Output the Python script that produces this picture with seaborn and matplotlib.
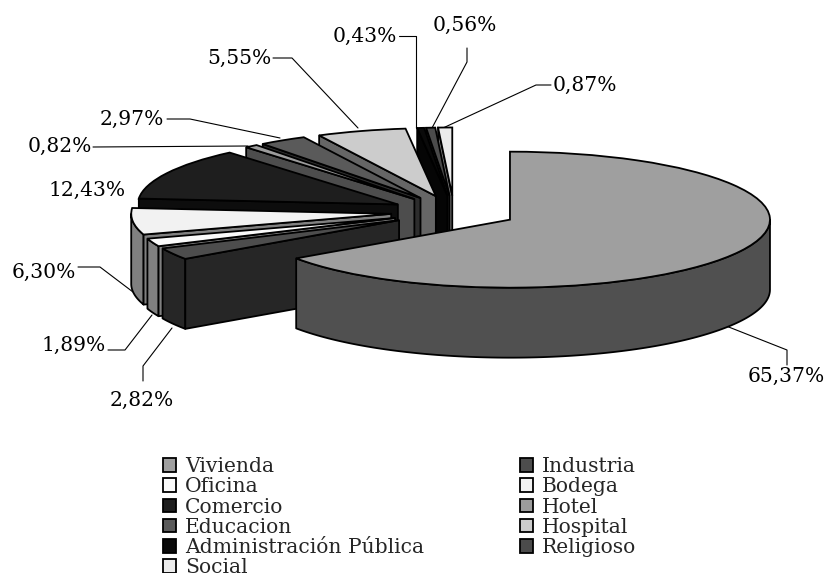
import numpy as np
import matplotlib
matplotlib.use("Agg")
import matplotlib.pyplot as plt
from matplotlib.patches import Polygon, Patch
from matplotlib.transforms import Affine2D
import seaborn as sns

categories = ["Vivienda", "Industria", "Oficina", "Bodega", "Comercio", "Hotel",
              "Educacion", "Hospital", "Administración Pública", "Religioso", "Social"]
values = [65.37, 2.82, 1.89, 6.30, 12.43, 0.82, 2.97, 5.55, 0.43, 0.56, 0.87]
value_labels = ["65,37%", "2,82%", "1,89%", "6,30%", "12,43%", "0,82%",
                "2,97%", "5,55%", "0,43%", "0,56%", "0,87%"]
top_colors = ["#9f9f9f", "#4d4d4d", "#fafafa", "#f2f2f2", "#1e1e1e", "#9c9c9c",
              "#5a5a5a", "#cccccc", "#0a0a0a", "#4b4b4b", "#ebebeb"]
side_colors = ["#505050", "#262626", "#808080", "#808080", "#0d0d0d", "#4d4d4d",
               "#2d2d2d", "#666666", "#050505", "#262626", "#757575"]

W, H = 824, 573
CX, CY, RX, RY, DEPTH = 454.0, 212.0, 260.0, 68.0, 70.0
EXPLODE = 0.243
LW = 1.3
FONT = "DejaVu Serif"

sns.set_theme(style="white")
plt.rcParams["font.family"] = [FONT]

fig = plt.figure(figsize=(W / 100, H / 100), dpi=100, facecolor="white")
ax = fig.add_axes([0, 0, 1, 1])
wedges, _ = ax.pie(values, colors=sns.color_palette(top_colors), explode=[EXPLODE] * len(values),
                   startangle=90, counterclock=False,
                   wedgeprops=dict(edgecolor="black", linewidth=LW))
ax.set_aspect("auto")
ax.set_xlim(-CX / RX, (W - CX) / RX)
ax.set_ylim((CY - H) / RY, CY / RY)
ax.axis("off")

drop = DEPTH / RY


def outer_spans(t1, t2):
    spans = []
    for k in (-360, 0, 360):
        lo, hi = max(t1 + k, 180), min(t2 + k, 360)
        if hi > lo:
            spans.append((lo, hi))
    return spans


n = len(values)
for i, w in enumerate(wedges):
    rank = (n - 1 - i) if i else n   # back to front, the large slice last
    z = 10 + rank
    w.set_zorder(z + 0.5)
    cx, cy = w.center
    t1, t2 = w.theta1, w.theta2
    face = dict(facecolor=side_colors[i], edgecolor="black", linewidth=LW, zorder=z, joinstyle="round")
    for lo, hi in outer_spans(t1, t2):
        th = np.radians(np.linspace(lo, hi, 120))
        xs = cx + np.cos(th)
        ys = cy + np.sin(th)
        ax.add_patch(Polygon(np.r_[np.c_[xs, ys], np.c_[xs[::-1], ys[::-1] - drop]], closed=True, **face))
    for t, visible in ((t1, np.cos(np.radians(t1)) > 0), (t2, np.cos(np.radians(t2)) < 0)):
        if visible:
            ex, ey = cx + np.cos(np.radians(t)), cy + np.sin(np.radians(t))
            ax.add_patch(Polygon([(cx, cy), (ex, ey), (ex, ey - drop), (cx, cy - drop)],
                                 closed=True, **face))

pix = Affine2D().scale(1, -1).translate(0, H)
label_pos = [(786, 376), (142, 400), (74, 345), (44, 272), (87, 190), (60, 146),
             (132, 119), (239, 58), (365, 36), (465, 25), (585, 85)]
leaders = [[(716, 322), (787, 350), (787, 365)],
           [(143, 381), (143, 366), (172, 328)],
           [(108, 350), (125, 350), (152, 315)],
           [(78, 267), (100, 267), (133, 292)],
           [],
           [(93, 147), (248, 146)],
           [(167, 119), (190, 119), (280, 138)],
           [(273, 58), (292, 58), (358, 128)],
           [(399, 36), (416, 36), (416, 128)],
           [(467, 48), (467, 62), (432, 128)],
           [(551, 85), (536, 85), (443, 128)]]
for text, (tx, ty), path in zip(value_labels, label_pos, leaders):
    ax.text(tx, ty, text, transform=pix, ha="center", va="center", fontsize=14.6, color="black", zorder=40)
    if path:
        xs, ys = zip(*path)
        ax.plot(xs, ys, transform=pix, color="black", lw=0.8, zorder=5, clip_on=False)

left = list(range(0, n, 2))
right = list(range(1, n, 2))
order = left + right
handles = [Patch(facecolor=top_colors[i], edgecolor="black", linewidth=LW, label=categories[i]) for i in order]
leg = ax.legend(handles=handles, ncols=2, loc="upper left", bbox_to_anchor=(163 / W, 1 - 457 / H),
                bbox_transform=fig.transFigure, frameon=False, fontsize=14.6, labelspacing=0.063,
                handlelength=0.65, handleheight=0.65, handletextpad=0.45, columnspacing=4.7,
                borderpad=0, borderaxespad=0)
leg.set_zorder(50)

fig.savefig("out.png", dpi=100, facecolor="white")
